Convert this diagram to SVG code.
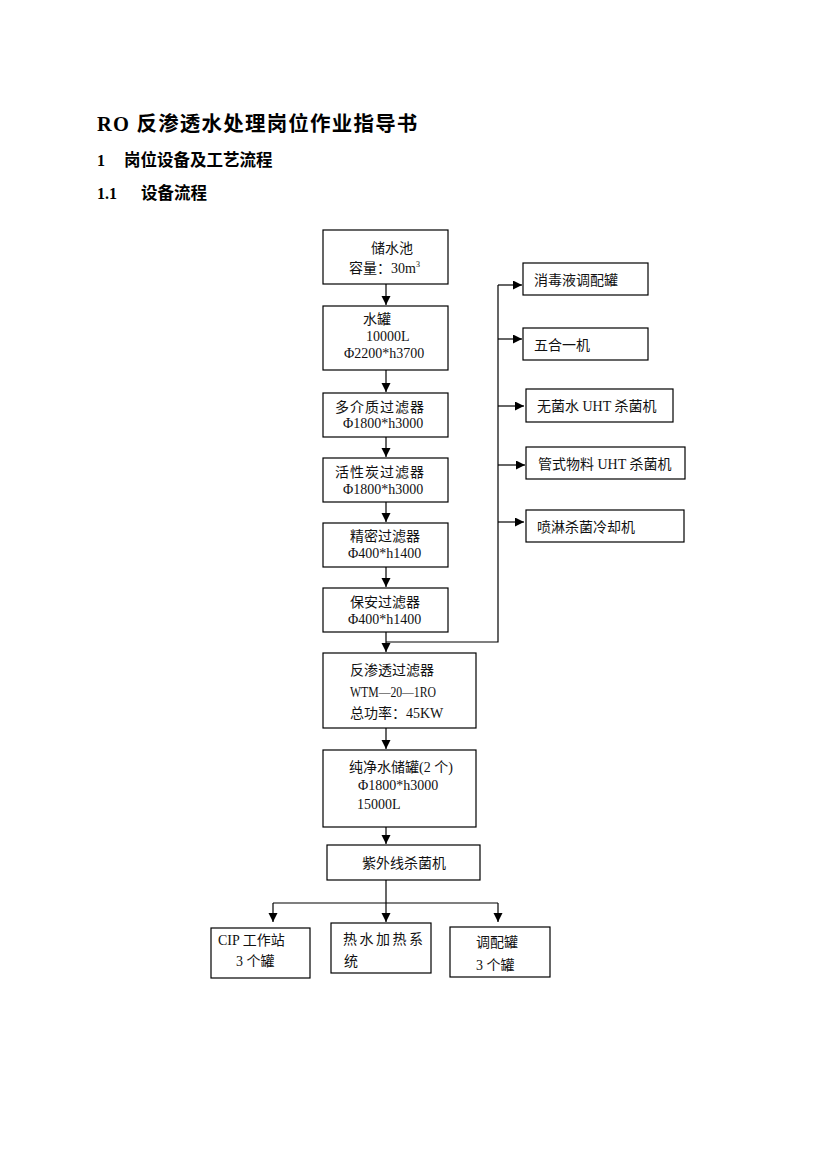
<svg xmlns="http://www.w3.org/2000/svg" width="826" height="1169" viewBox="0 0 826 1169">
<defs>
<marker id="ah" markerUnits="userSpaceOnUse" markerWidth="10" markerHeight="10" refX="9" refY="4.5" orient="auto">
<path d="M0,0 L9,4.5 L0,9 z" fill="#000"/>
</marker>
<style>
.box{fill:#fff;stroke:#000;stroke-width:1.2}
.t{font-family:"Liberation Serif","Noto Sans CJK SC",serif;font-size:14px;fill:#111}
.h{font-family:"Liberation Serif","Noto Sans CJK SC",serif;font-weight:bold;fill:#000}
.c{stroke:#000;stroke-width:1.2;fill:none}
.a{stroke:#000;stroke-width:1.2;fill:none;marker-end:url(#ah)}
</style>
</defs>
<rect width="826" height="1169" fill="#fff"/>
<g id="headings">
<text class="h" x="97" y="131" font-size="20.5" letter-spacing="1.2">RO 反渗透水处理岗位作业指导书</text>
<text class="h" x="97" y="166" font-size="16">1</text>
<text class="h" x="124" y="166" font-size="16.5">岗位设备及工艺流程</text>
<text class="h" x="97" y="199" font-size="16">1.1</text>
<text class="h" x="141" y="199" font-size="16.5">设备流程</text>
</g>
<g id="connectors">
<line class="a" x1="386" y1="284" x2="386" y2="305"/>
<line class="a" x1="386" y1="370" x2="386" y2="392"/>
<line class="a" x1="386" y1="437" x2="386" y2="457"/>
<line class="a" x1="386" y1="502" x2="386" y2="522"/>
<line class="a" x1="386" y1="567" x2="386" y2="587"/>
<line class="a" x1="386" y1="632" x2="386" y2="652"/>
<polyline class="c" points="386,642 498,642 498,285"/>
<line class="a" x1="498" y1="285" x2="522" y2="285"/>
<line class="a" x1="498" y1="339" x2="522" y2="339"/>
<line class="a" x1="498" y1="406" x2="524" y2="406"/>
<line class="a" x1="498" y1="465" x2="525" y2="465"/>
<line class="a" x1="498" y1="522" x2="524" y2="522"/>
<line class="a" x1="386" y1="728" x2="386" y2="749"/>
<line class="a" x1="386" y1="827" x2="386" y2="844"/>
<line class="a" x1="386" y1="880" x2="386" y2="922"/>
<line class="c" x1="273" y1="903" x2="498" y2="903"/>
<line class="a" x1="273" y1="903" x2="273" y2="922"/>
<line class="a" x1="498" y1="903" x2="498" y2="922"/>
</g>
<g id="n-reservoir">
<rect class="box" x="323" y="230" width="125" height="54"/>
<text class="t" x="371" y="253">储水池</text>
<text class="t" x="349" y="273">容量：30m<tspan font-size="8" dy="-6">3</tspan></text>
</g>
<g id="n-tank">
<rect class="box" x="323" y="306" width="125" height="64"/>
<text class="t" x="363" y="324">水罐</text>
<text class="t" x="366" y="341">10000L</text>
<text class="t" x="344" y="358">Φ2200*h3700</text>
</g>
<g id="n-multimedia">
<rect class="box" x="323" y="393" width="125" height="44"/>
<text class="t" x="335" y="412" letter-spacing="1">多介质过滤器</text>
<text class="t" x="343" y="428">Φ1800*h3000</text>
</g>
<g id="n-carbon">
<rect class="box" x="323" y="458" width="125" height="44"/>
<text class="t" x="335" y="477" letter-spacing="1">活性炭过滤器</text>
<text class="t" x="343" y="494">Φ1800*h3000</text>
</g>
<g id="n-precision">
<rect class="box" x="323" y="523" width="125" height="44"/>
<text class="t" x="350" y="541">精密过滤器</text>
<text class="t" x="348" y="558">Φ400*h1400</text>
</g>
<g id="n-security">
<rect class="box" x="323" y="588" width="125" height="44"/>
<text class="t" x="350" y="607">保安过滤器</text>
<text class="t" x="348" y="624">Φ400*h1400</text>
</g>
<g id="n-ro">
<rect class="box" x="323" y="653" width="153" height="75"/>
<text class="t" x="350" y="675">反渗透过滤器</text>
<text class="t" x="350" y="697" textLength="86" lengthAdjust="spacingAndGlyphs">WTM—20—1RO</text>
<text class="t" x="350" y="718">总功率：45KW</text>
</g>
<g id="n-purewater">
<rect class="box" x="323" y="750" width="153" height="77"/>
<text class="t" x="349" y="772">纯净水储罐(2 个)</text>
<text class="t" x="358" y="790">Φ1800*h3000</text>
<text class="t" x="357" y="809">15000L</text>
</g>
<g id="n-uv">
<rect class="box" x="327" y="845" width="153" height="35"/>
<text class="t" x="362" y="868">紫外线杀菌机</text>
</g>
<g id="n-cip">
<rect class="box" x="211" y="928" width="99" height="50"/>
<text class="t" x="218" y="945">CIP 工作站</text>
<text class="t" x="236" y="966">3 个罐</text>
</g>
<g id="n-hotwater">
<rect class="box" x="331" y="923" width="100" height="50"/>
<text class="t" x="343" y="944" letter-spacing="2.5">热水加热系</text>
<text class="t" x="344" y="966">统</text>
</g>
<g id="n-blend">
<rect class="box" x="450" y="927" width="100" height="50"/>
<text class="t" x="476" y="947">调配罐</text>
<text class="t" x="476" y="970">3 个罐</text>
</g>
<g id="n-disinfect">
<rect class="box" x="523" y="263" width="125" height="32"/>
<text class="t" x="534" y="285">消毒液调配罐</text>
</g>
<g id="n-fivein1">
<rect class="box" x="523" y="328" width="125" height="32"/>
<text class="t" x="534" y="350">五合一机</text>
</g>
<g id="n-sterilewater">
<rect class="box" x="526" y="389" width="147" height="33"/>
<text class="t" x="537" y="411">无菌水 UHT 杀菌机</text>
</g>
<g id="n-tubular">
<rect class="box" x="526" y="447" width="159" height="32"/>
<text class="t" x="538" y="469">管式物料 UHT 杀菌机</text>
</g>
<g id="n-spray">
<rect class="box" x="526" y="510" width="158" height="32"/>
<text class="t" x="537" y="532">喷淋杀菌冷却机</text>
</g>
</svg>
